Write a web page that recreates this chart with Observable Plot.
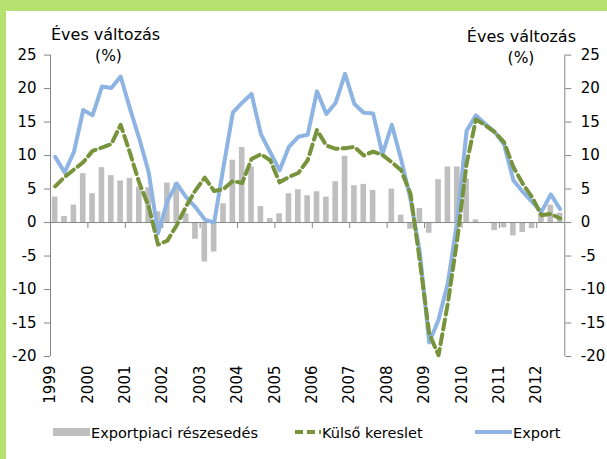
<!DOCTYPE html>
<html>
<head>
<meta charset="utf-8">
<script src="https://cdn.jsdelivr.net/npm/d3@7"></script>
<script src="https://cdn.jsdelivr.net/npm/@observablehq/plot@0.6"></script>
<style>
  html, body { margin: 0; padding: 0; }
  body { width: 607px; height: 459px; background: #b4e170; position: relative; overflow: hidden; font-family: "DejaVu Sans", sans-serif; }
  #paper { position: absolute; left: 6px; top: 11px; width: 601px; height: 448px; background: #fff; }
  #chart, #overlay { position: absolute; left: 0; top: 0; }
  #overlay { pointer-events: none; }
</style>
</head>
<body>
<div id="paper"></div>
<div id="chart"></div>
<svg id="overlay" width="607" height="459"></svg>
<script>
// Quarterly data, 1999 Q1 – 2012 Q3
const years = [1999, 2000, 2001, 2002, 2003, 2004, 2005, 2006, 2007, 2008, 2009, 2010, 2011, 2012];
const quarters = years.flatMap(y => ["Q1", "Q2", "Q3", "Q4"].map(q => `${y} ${q}`)).slice(0, 55);

// Exportpiaci részesedés (bars)
const share = [3.8, 0.9, 2.6, 7.3, 4.3, 8.2, 7.0, 6.2, 6.6, 5.3,
               5.2, 1.6, 5.9, 5.9, 1.3, -2.5, -5.9, -4.4, 2.8, 9.3,
               11.2, 8.3, 2.4, 0.6, 1.3, 4.3, 4.9, 4.0, 4.6, 3.8,
               6.1, 9.9, 5.5, 5.7, 4.8, -0.1, 5.0, 1.1, -1.0, 2.1,
               -1.6, 6.4, 8.3, 8.3, 6.5, 0.4, 0.0, -1.2, -0.8, -2.0,
               -1.5, -0.9, 1.3, 2.6, 1.4];

// Külső kereslet (green dashed)
const demand = [5.4, 6.8, 7.9, 9.0, 10.7, 11.2, 11.7, 14.6, 10.4, 5.9,
                2.4, -3.3, -2.7, -0.4, 2.4, 4.8, 6.7, 4.7, 5.0, 6.2,
                5.9, 9.5, 10.2, 9.3, 6.0, 6.8, 7.4, 9.3, 13.8, 11.5,
                11.0, 11.1, 11.3, 10.0, 10.6, 10.1, 9.0, 7.8, 4.3, -5.8,
                -16.6, -19.8, -12.0, -2.5, 8.8, 15.4, 14.5, 13.5, 12.0, 8.3,
                5.8, 3.8, 1.1, 1.3, 0.6];

// Export (blue)
const exportGrowth = [9.8, 7.5, 10.5, 16.8, 16.0, 20.3, 20.1, 21.8, 17.0, 12.5,
                      7.5, -1.6, 3.2, 5.8, 3.8, 2.3, 0.45, 0.0, 8.3, 16.4,
                      17.9, 19.2, 13.2, 10.5, 7.8, 11.3, 12.8, 13.1, 19.6, 16.2,
                      17.9, 22.2, 17.7, 16.4, 16.3, 10.2, 14.6, 9.4, 3.5, -4.5,
                      -17.9, -14.5, -9.0, 0.3, 13.7, 16.0, 14.7, 13.5, 11.7, 6.3,
                      4.6, 3.1, 1.6, 4.2, 2.0];

const yTicks = [-20, -15, -10, -5, 0, 5, 10, 15, 20, 25];
const titleText = "Éves változás";
const unitText = "(%)";
const seriesNames = ["Exportpiaci részesedés", "Külső kereslet", "Export"];

const rows = quarters.map((q, i) => ({
  q: i, label: q, share: share[i], demand: demand[i], exp: exportGrowth[i]
}));
const yearTicks = years.map((y, i) => i * 4).filter(v => v > 0 && v < quarters.length);

const axisGray = "#868686";
const barGray = "#bfbfbf";
const green = "#77933c";
const blue = "#8db4e2";

const chart = Plot.plot({
  width: 607,
  height: 459,
  marginLeft: 50,
  marginRight: 42.7,
  marginTop: 54.6,
  marginBottom: 103,
  x: { domain: [0, quarters.length], axis: null },
  y: { domain: [-20, 25], axis: null },
  style: { background: "transparent", fontFamily: "DejaVu Sans, sans-serif", color: "#000" },
  marks: [
    Plot.rect(rows, { x1: d => d.q + 0.2, x2: d => d.q + 0.8, y1: 0, y2: "share", fill: barGray }),
    Plot.ruleY([0], { stroke: axisGray, strokeWidth: 1 }),
    Plot.ruleX(yearTicks, { y1: 0, y2: -0.9, stroke: axisGray }),
    Plot.ruleX([0, quarters.length], { stroke: axisGray }),
    Plot.axisY({ anchor: "left", ticks: yTicks, tickFormat: d => String(d), tickSize: 6, tickPadding: 8,
                 fontSize: 15, stroke: axisGray, fill: "#000", label: null }),
    Plot.axisY({ anchor: "right", ticks: yTicks, tickFormat: d => String(d), tickSize: 6, tickPadding: 10,
                 fontSize: 15, stroke: axisGray, fill: "#000", label: null }),
    Plot.text(years, { x: (d, i) => i * 4 + 0.5, text: d => String(d), frameAnchor: "bottom",
                       rotate: -90, textAnchor: "end", dy: 9, fontSize: 15, fill: "#000" }),
    Plot.line(rows, { x: d => d.q + 0.5, y: "exp", stroke: blue, strokeWidth: 4,
                      strokeLinejoin: "round", strokeLinecap: "round" }),
    Plot.line(rows, { x: d => d.q + 0.5, y: "demand", stroke: green, strokeWidth: 4,
                      strokeDasharray: "10,5", strokeLinejoin: "round" })
  ]
});
document.getElementById("chart").appendChild(chart);

// Titles and legend
const ov = d3.select("#overlay").style("font-family", "DejaVu Sans, sans-serif");
ov.append("text").attr("x", 51).attr("y", 39.5).attr("font-size", 16).text(titleText);
ov.append("text").attr("x", 108.5).attr("y", 61).attr("font-size", 15.5)
  .attr("text-anchor", "middle").text(unitText);
ov.append("text").attr("x", 576).attr("y", 42).attr("font-size", 16).attr("text-anchor", "end").text(titleText);
ov.append("text").attr("x", 521).attr("y", 63).attr("font-size", 15.5)
  .attr("text-anchor", "middle").text(unitText);

const ly = 432;
ov.append("rect").attr("x", 53).attr("y", ly - 4).attr("width", 37).attr("height", 8).attr("fill", barGray);
ov.append("text").attr("x", 91).attr("y", ly + 6).attr("font-size", 14.5).text(seriesNames[0]);
ov.append("line").attr("x1", 295).attr("x2", 321).attr("y1", ly).attr("y2", ly)
  .attr("stroke", green).attr("stroke-width", 4).attr("stroke-dasharray", "8,4");
ov.append("text").attr("x", 322).attr("y", ly + 6).attr("font-size", 14.5).text(seriesNames[1]);
ov.append("line").attr("x1", 475).attr("x2", 512).attr("y1", ly).attr("y2", ly)
  .attr("stroke", blue).attr("stroke-width", 4);
ov.append("text").attr("x", 513).attr("y", ly + 6).attr("font-size", 14.5).text(seriesNames[2]);
</script>
</body>
</html>
